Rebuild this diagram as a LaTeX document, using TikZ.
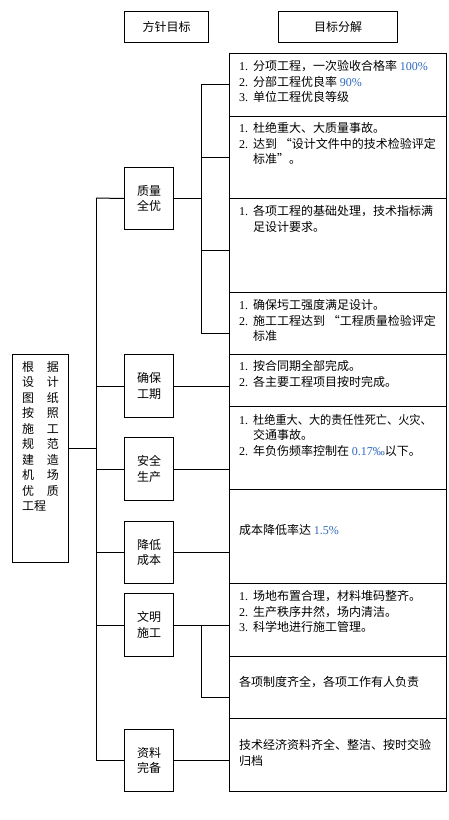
\documentclass[tikz,border=0pt]{standalone}
\usepackage{fontspec}
\setmainfont{Liberation Serif}
\newfontfamily\cjk{Noto Sans CJK SC}
\definecolor{numblue}{RGB}{45,105,190}
\newcommand{\nb}[1]{{\rmfamily\color{numblue}#1}}
\newcommand{\nn}[1]{{\rmfamily #1}}
\begin{document}
\begin{tikzpicture}[x=1pt,y=-1pt,
  box/.style={draw, line width=1pt, fill=white, inner sep=0pt, anchor=north west},
  gbox/.style={box, minimum width=49pt, align=center, font=\cjk\fontsize{12}{15.5}\selectfont},
  tbox/.style={box, minimum width=217pt},
  txt/.style={anchor=north west, inner sep=0pt, font=\cjk\fontsize{12}{15.5}\selectfont},
  conn/.style={line width=1pt}]
\useasboundingbox (0,0) rectangle (448,820);
% headers
\node[box, minimum width=84pt, minimum height=31pt, font=\cjk\fontsize{12}{15.5}\selectfont] (h1) at (124,11) {方针目标};
\node[box, minimum width=119pt, minimum height=31pt, font=\cjk\fontsize{12}{15.5}\selectfont] (h2) at (278,11) {目标分解};
% root
\node[box, minimum width=56pt, minimum height=208pt] (root) at (12,354) {};
\node[txt] (rt) at (22,360.4) {\begin{tabular}{@{}l@{\hspace{12.7pt}}l@{}}根&据\\设&计\\图&纸\\按&照\\施&工\\规&范\\建&造\\机&场\\优&质\\\multicolumn{2}{@{}l@{}}{工程}\end{tabular}};
% goal boxes
\node[gbox, minimum height=62pt] (g1) at (124,167) {质量\\全优};
\node[gbox, minimum height=63pt] (g2) at (124,354) {确保\\工期};
\node[gbox, minimum height=63pt] (g3) at (124,437) {安全\\生产};
\node[gbox, minimum height=62pt] (g4) at (124,521) {降低\\成本};
\node[gbox, minimum height=63pt] (g5) at (124,593) {文明\\施工};
\node[gbox, minimum height=62pt] (g6) at (124,729) {资料\\完备};
% target boxes
\node[tbox, minimum height=62.7pt] (b1) at (229,53) {};
\node[tbox, minimum height=82.3pt] (b2) at (229,115.7) {};
\node[tbox, minimum height=104pt] (b3) at (229,198) {};
\node[tbox, minimum height=62pt] (b4) at (229,292) {};
\node[tbox, minimum height=52pt] (b5) at (229,354) {};
\node[tbox, minimum height=83pt] (b6) at (229,406) {};
\node[tbox, minimum height=94pt] (b7) at (229,489) {};
\node[tbox, minimum height=73pt] (b8) at (229,583) {};
\node[tbox, minimum height=62pt] (b9) at (229,656) {};
\node[tbox, minimum height=73pt] (b10) at (229,718) {};
% texts
\node[txt] (t1) at (239,59.7) {\begin{tabular}{@{}p{14pt}@{}l@{}}\nn{1.}&分项工程，一次验收合格率 \nb{100\%}\\\nn{2.}&分部工程优良率 \nb{90\%}\\\nn{3.}&单位工程优良等级\end{tabular}};
\node[txt] (t2) at (239,121.7) {\begin{tabular}{@{}p{14pt}@{}l@{}}\nn{1.}&杜绝重大、大质量事故。\\\nn{2.}&达到 “设计文件中的技术检验评定\\&标准”。\end{tabular}};
\node[txt] (t3) at (239,204.7) {\begin{tabular}{@{}p{14pt}@{}l@{}}\nn{1.}&各项工程的基础处理，技术指标满\\&足设计要求。\end{tabular}};
\node[txt] (t4) at (239,298.7) {\begin{tabular}{@{}p{14pt}@{}l@{}}\nn{1.}&确保圬工强度满足设计。\\\nn{2.}&施工工程达到 “工程质量检验评定\\&标准\end{tabular}};
\node[txt] (t5) at (239,359.7) {\begin{tabular}{@{}p{14pt}@{}l@{}}\nn{1.}&按合同期全部完成。\\\nn{2.}&各主要工程项目按时完成。\end{tabular}};
\node[txt] (t6) at (239,413) {\begin{tabular}{@{}p{14pt}@{}l@{}}\nn{1.}&\scalebox{0.93}[1]{杜绝重大、大的责任性死亡、火灾、}\\&交通事故。\\\nn{2.}&年负伤频率控制在 \nb{0.17‰}以下。\end{tabular}};
\node[txt] (t7) at (239,524.4) {成本降低率达 \nb{1.5\%}};
\node[txt] (t8) at (239,589.7) {\begin{tabular}{@{}p{14pt}@{}l@{}}\nn{1.}&场地布置合理，材料堆码整齐。\\\nn{2.}&生产秩序井然，场内清洁。\\\nn{3.}&科学地进行施工管理。\end{tabular}};
\node[txt] (t9) at (239,676.4) {各项制度齐全，各项工作有人负责};
\node[txt] (t10) at (239,738.7) {\begin{tabular}{@{}l@{}}技术经济资料齐全、整洁、按时交验\\归档\end{tabular}};
% junction coordinates
\coordinate (tA) at (96,198);
\coordinate (tB) at (96,760);
\coordinate (tR) at (96,448);
\coordinate (qA) at (201,84);
\coordinate (qQ) at (201,157);
\coordinate (qC) at (201,250);
\coordinate (qB) at (201,333);
\coordinate (wB) at (201,697);
% connectors
\draw[conn] (tA) -- (tB);
\draw[conn] (tR -| root.east) -- (tR);
\draw[conn] (tA) -- (g1.west);
\draw[conn] (g2.west -| tA) -- (g2.west);
\draw[conn] (g3.west -| tA) -- (g3.west);
\draw[conn] (g4.west -| tA) -- (g4.west);
\draw[conn] (g5.west -| tA) -- (g5.west);
\draw[conn] (g6.west -| tA) -- (g6.west);
\draw[conn] (g1.east) -- (g1.east -| qA);
\draw[conn] (qA) -- (qB);
\draw[conn] (qA) -- (qA -| b1.west);
\draw[conn] (qQ) -- (qQ -| b2.west);
\draw[conn] (qC) -- (qC -| b3.west);
\draw[conn] (qB) -- (qB -| b4.west);
\draw[conn] (g2.east) -- (g2.east -| b5.west);
\draw[conn] (g3.east) -- (g3.east -| b6.west);
\draw[conn] (g4.east) -- (g4.east -| b7.west);
\draw[conn] (g5.east) -- (g5.east -| b8.west);
\draw[conn] (g5.east -| qA) -- (wB);
\draw[conn] (wB) -- (wB -| b9.west);
\draw[conn] (g6.east) -- (g6.east -| b10.west);
\end{tikzpicture}
\end{document}
